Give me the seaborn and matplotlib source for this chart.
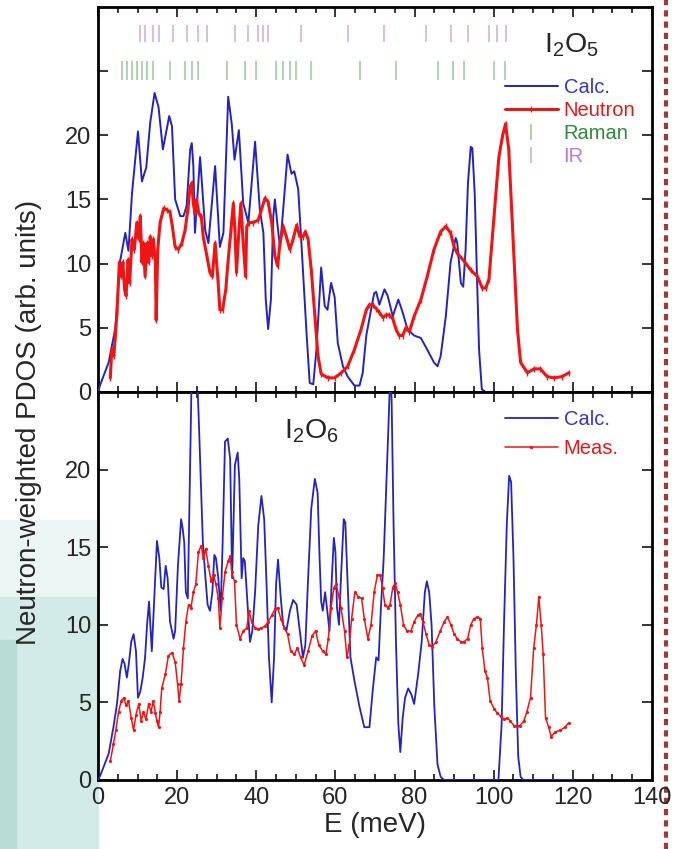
import matplotlib
matplotlib.use("Agg")
import numpy as np
import pandas as pd
import matplotlib.pyplot as plt
import seaborn as sns
from matplotlib.lines import Line2D
from matplotlib.patches import Rectangle
from matplotlib.ticker import MultipleLocator, FixedLocator

# ---------------- data ----------------
# I2O5 calculated PDOS (blue)
i2o5_calc_E = [0, 0.6, 2.7, 4.4, 5.6, 6.9, 7.7, 8.6, 10.1, 11.1, 12.2, 13.2, 14.3, 15.3, 16.4,
               18.0, 18.7, 19.5, 20.8, 21.6, 22.4, 23.3, 23.7, 24.1, 24.5, 25.8, 27.1, 27.9, 29.6,
               30.8, 31.7, 32.9, 33.8, 34.5, 35.6, 36.7, 38.0, 39.7, 40.9, 41.8, 42.4, 43.0,
               43.7, 44.3, 44.7, 45.4, 46.0, 46.8, 47.9, 48.9, 49.6, 50.6, 51.4, 52.7, 53.5,
               54.4, 55.2, 56.4, 57.3, 58.0, 58.9, 59.8, 60.6, 61.9, 63.1, 64.8, 66.1, 66.9,
               67.8, 69.0, 69.8, 70.3, 71.1, 72.4, 73.2, 74.5, 75.9, 77.0, 78.2, 79.9, 81.6,
               83.2, 84.9, 85.8, 86.6, 87.9, 89.1, 90.4, 90.8, 91.7, 92.3, 92.9, 93.5, 94.2,
               94.6, 95.2, 95.7, 96.3, 97.0, 98.0, 120.0]
i2o5_calc_I = [0, 0.6, 2.3, 5.0, 10.2, 12.4, 11.0, 15.5, 20.3, 16.4, 17.5, 21.0, 23.3, 22.2, 18.9,
               21.5, 20.7, 15.0, 13.7, 13.7, 14.5, 18.9, 19.4, 17.6, 12.4, 18.3, 12.6, 11.6, 17.6,
               11.3, 12.4, 23.0, 20.9, 18.1, 20.4, 14.7, 13.2, 19.5, 14.2, 12.4, 7.2, 4.9,
               7.2, 13.7, 15.0, 12.9, 11.3, 14.2, 18.5, 17.0, 17.2, 15.8, 11.6, 4.6, 0.7,
               0.6, 3.3, 9.7, 6.7, 6.4, 8.5, 7.4, 3.8, 2.0, 1.2, 0.5, 0.5, 1.5,
               4.4, 6.4, 7.7, 7.8, 6.8, 8.0, 7.5, 5.9, 7.2, 6.2, 4.9, 4.4, 4.2,
               3.3, 2.3, 2.0, 2.8, 5.9, 10.1, 12.0, 11.6, 8.5, 8.2, 11.1, 16.3, 19.1,
               19.0, 15.5, 9.8, 3.3, 0.2, 0.0, 0.0]

# I2O5 neutron measurement (red)
i2o5_meas_E = [3.1, 3.5, 4.0, 4.4, 4.8, 5.4, 5.9, 6.3, 6.7, 7.1, 7.6, 8.0, 8.6, 9.2, 9.8, 10.3,
               10.7, 11.1, 11.5, 11.9, 12.4, 12.8, 13.2, 13.6, 14.0, 14.5, 14.7, 15.1, 15.7,
               16.6, 17.4, 18.2, 18.8, 19.5, 20.3, 21.2, 22.0, 22.7, 23.3, 23.7, 24.1, 24.5,
               24.9, 25.5, 26.1, 26.6, 27.5, 28.3, 28.9, 29.6, 30.3, 30.8, 31.5, 32.3, 32.9,
               33.6, 34.2, 34.6, 35.0, 35.5, 36.1, 36.7, 37.3, 37.6, 38.2, 39.2, 40.5, 41.3,
               42.2, 43.0, 43.9, 44.7, 45.4, 46.0, 46.8, 47.6, 48.5, 49.3, 50.2, 51.0, 51.8,
               52.4, 53.1, 53.9, 54.8, 55.6, 56.4, 58.1, 59.8, 61.5, 63.1, 64.8, 66.5, 67.8,
               68.6, 69.4, 70.3, 71.1, 72.0, 72.8, 73.6, 74.5, 75.3, 76.1, 77.0, 77.8, 78.7,
               79.9, 81.6, 83.2, 84.9, 86.6, 87.9, 89.1, 90.0, 90.8, 92.5, 94.2, 95.9, 97.1,
               98.0, 98.8, 100.1, 101.3, 102.2, 103.0, 103.8, 104.7, 106.0, 106.8, 108.5,
               110.2, 111.8, 113.5, 115.2, 117.3, 119.0]
i2o5_meas_I = [1.1, 3.3, 2.8, 4.4, 6.2, 10.1, 9.0, 10.1, 8.0, 7.5, 10.3, 8.5, 11.9, 11.1, 13.2, 11.9,
               13.7, 10.1, 11.6, 9.0, 11.6, 10.1, 12.1, 10.6, 11.9, 10.1, 5.6, 11.1, 13.2,
               14.3, 14.2, 14.0, 12.9, 11.3, 11.1, 11.6, 12.6, 14.2, 16.0, 16.3, 14.7, 13.9,
               15.0, 13.9, 13.7, 12.1, 10.6, 9.3, 9.0, 11.6, 8.8, 6.4, 6.4, 8.0, 10.3,
               12.6, 14.7, 12.6, 9.3, 12.0, 14.7, 11.6, 9.0, 12.9, 13.2, 13.2, 13.4, 14.2,
               15.1, 14.8, 13.2, 10.6, 9.8, 11.6, 12.9, 12.1, 11.1, 11.9, 13.0, 12.1, 12.1,
               12.5, 11.9, 9.5, 5.9, 2.8, 1.4, 1.1, 1.1, 1.5, 2.0, 3.3, 4.9, 6.4,
               6.8, 6.8, 6.5, 6.2, 5.8, 6.0, 6.0, 5.7, 4.9, 4.4, 4.4, 5.0, 4.7,
               5.9, 7.2, 9.0, 11.1, 12.5, 12.9, 12.4, 11.3, 10.8, 10.2, 9.5, 9.0, 8.1,
               8.1, 8.8, 13.7, 18.3, 19.9, 20.9, 18.9, 13.2, 4.9, 2.3, 1.5,
               1.8, 1.8, 1.2, 1.1, 1.2, 1.5]

# I2O5 optical modes (tick positions, meV)
raman_E = [6.0, 7.3, 8.6, 9.8, 11.1, 12.3, 14.0, 18.2, 22.0, 23.7, 25.3, 32.5, 37.1, 40.0,
           45.1, 46.7, 48.4, 50.1, 53.9, 66.1, 75.3, 85.8, 89.6, 92.6, 100.1, 102.9]
ir_E = [10.7, 11.9, 14.0, 15.3, 19.0, 22.4, 25.3, 27.5, 34.6, 37.9, 40.5, 41.7, 43.0, 51.4,
        63.1, 72.4, 82.9, 89.2, 93.4, 98.8, 100.9, 103.0]

# I2O6 calculated PDOS (blue)
i2o6_calc_E = [0, 0.6, 2.7, 3.9, 4.8, 5.6, 6.2, 6.7, 7.3, 7.8, 8.4, 9.0, 9.6, 10.1, 10.7, 11.3,
               11.9, 12.4, 12.9, 13.6, 14.3, 14.9, 15.5, 16.0, 16.6, 17.1, 17.6, 18.2, 19.1,
               19.5, 20.2, 21.0, 21.4, 21.8, 22.2, 22.7, 23.3, 23.7, 25.0, 25.5, 26.1, 26.5,
               27.1, 27.7, 28.3, 28.9, 29.4, 29.8, 30.4, 31.0, 31.5, 32.1, 32.8, 33.4, 33.9,
               34.6, 35.3, 35.7, 36.3, 36.7, 37.1, 37.8, 38.4, 39.0, 39.7, 40.5, 41.3, 42.0,
               42.6, 43.2, 43.9, 44.5, 45.0, 45.5, 46.2, 46.8, 47.6, 48.5, 49.3, 50.2, 51.0,
               51.8, 52.4, 53.1, 53.9, 54.8, 55.5, 56.0, 56.4, 56.8, 57.4, 57.9, 58.5, 59.1,
               59.6, 60.0, 60.4, 60.9, 61.4, 62.1, 62.5, 63.1, 63.8, 64.8, 66.1, 67.3, 68.6,
               69.4, 70.3, 70.9, 71.5, 72.2, 72.8, 73.4, 73.9, 74.2, 74.7, 75.3, 75.9, 76.4,
               77.0, 77.6, 78.4, 79.2, 79.9, 80.9, 81.8, 82.6, 83.1, 83.7, 84.3, 85.0, 85.8,
               86.6, 87.5, 101.2, 102.0, 102.6, 103.3, 103.9, 104.4, 105.0, 105.6, 106.2,
               106.8, 107.5, 120.0]
i2o6_calc_I = [0, 0.3, 1.7, 3.4, 4.9, 7.0, 7.8, 7.5, 6.6, 7.5, 8.9, 9.4, 8.3, 5.3, 5.7, 6.6,
               7.9, 10.0, 11.5, 8.3, 12.1, 15.4, 14.3, 12.4, 12.3, 13.8, 13.0, 10.2, 9.1,
               9.6, 13.8, 16.8, 16.2, 15.3, 12.1, 11.7, 20.7, 26.5, 26.5, 23.0, 18.5, 15.3,
               13.2, 11.3, 10.9, 12.1, 14.5, 14.3, 13.0, 10.9, 15.3, 21.8, 22.0, 20.7, 13.0,
               20.3, 21.1, 19.4, 13.0, 14.3, 14.1, 11.3, 8.9, 9.6, 12.1, 16.4, 18.3, 16.8,
               12.6, 7.9, 5.0, 7.9, 12.6, 14.2, 11.7, 10.0, 9.6, 10.9, 11.6, 11.3, 9.6,
               7.9, 8.7, 13.0, 17.5, 19.4, 18.5, 14.3, 11.5, 10.9, 12.1, 11.0, 9.6, 13.0,
               15.6, 14.7, 11.1, 10.0, 13.0, 16.8, 16.6, 12.6, 7.9, 6.4, 4.7, 3.4, 3.4,
               5.7, 7.9, 7.7, 11.1, 14.3, 18.5, 22.8, 26.5, 24.5, 16.4, 8.9, 3.6, 1.8,
               4.0, 5.3, 5.9, 5.5, 4.9, 6.8, 8.9, 12.1, 12.8, 12.1, 10.0, 4.7, 1.0,
               0.2, 0.0, 0.0, 3.6, 10.0, 16.4, 19.6, 19.2, 14.3, 6.8, 1.5,
               0.2, 0.0, 0.0]

# I2O6 measured PDOS (red)
i2o6_meas_E = [3.1, 3.9, 4.5, 5.2, 5.9, 6.5, 7.1, 7.7, 8.4, 9.0, 9.6, 10.3, 10.9, 11.5, 12.1,
               12.8, 13.4, 14.0, 14.5, 14.9, 15.3, 15.7, 16.1, 17.0, 17.8, 18.7, 19.5, 20.1,
               20.5, 21.0, 21.6, 22.2, 22.9, 23.5, 24.1, 24.7, 25.4, 26.1, 26.6, 27.2, 27.9,
               28.6, 29.2, 29.8, 30.4, 30.8, 31.4, 32.1, 32.9, 33.4, 33.8, 34.5, 35.0, 35.9,
               36.7, 37.6, 38.2, 38.8, 39.7, 40.5, 41.3, 42.2, 43.0, 43.9, 44.7, 45.4, 46.2,
               47.1, 47.9, 48.7, 49.6, 50.4, 51.2, 52.1, 53.1, 54.1, 55.0, 55.8, 56.8, 57.6,
               58.2, 58.9, 59.6, 60.2, 60.8, 61.4, 62.3, 62.9, 63.5, 64.1, 64.9, 65.8, 66.6,
               67.3, 68.2, 69.0, 69.8, 70.6, 71.3, 71.9, 72.5, 73.2, 73.8, 74.5, 75.1, 75.7,
               76.4, 77.2, 78.1, 79.1, 79.9, 80.8, 81.4, 82.1, 82.9, 83.7, 84.5, 85.4, 86.5,
               87.5, 88.3, 89.2, 90.0, 90.8, 91.7, 92.5, 93.4, 94.2, 95.0, 95.9, 96.6, 97.1,
               97.8, 98.4, 99.1, 100.1, 100.9, 101.8, 102.6, 103.4, 104.2, 105.1, 105.9,
               106.7, 107.6, 108.4, 109.3, 110.1, 110.8, 111.4, 112.0, 112.5, 113.1, 113.9,
               114.5, 115.6, 116.8, 118.0, 119.0]
i2o6_meas_I = [1.2, 2.3, 3.2, 4.4, 5.1, 5.3, 4.8, 5.1, 4.0, 3.2, 4.2, 4.9, 3.8, 4.4, 3.9,
               4.9, 4.4, 5.1, 4.3, 3.8, 3.4, 4.4, 5.9, 6.8, 8.0, 8.2, 7.6, 6.2,
               5.1, 6.2, 8.5, 10.2, 11.3, 11.1, 12.1, 12.6, 14.7, 15.1, 14.3, 14.9, 13.8,
               12.8, 13.2, 12.6, 11.7, 9.8, 11.7, 13.4, 14.1, 14.4, 13.4, 12.8, 10.0, 9.1,
               9.6, 9.8, 10.9, 10.2, 9.8, 9.7, 9.8, 9.9, 10.2, 10.6, 11.0, 11.1, 10.4,
               9.8, 9.4, 8.3, 8.1, 8.5, 7.9, 7.4, 8.3, 9.3, 9.6, 8.7, 8.3, 8.1,
               9.1, 11.1, 12.4, 12.6, 11.9, 11.1, 9.6, 7.9, 8.7, 10.4, 12.1, 11.8, 11.7,
               10.4, 9.1, 10.0, 12.1, 13.2, 13.2, 12.4, 11.3, 11.1, 11.3, 12.4, 12.7, 12.1,
               11.3, 10.0, 9.6, 9.6, 10.2, 10.6, 10.7, 10.2, 9.4, 8.7, 8.6, 8.9, 9.6,
               10.2, 10.5, 10.0, 9.4, 9.1, 8.9, 8.9, 9.1, 10.0, 10.4, 10.5, 10.4, 8.5,
               7.0, 6.6, 5.1, 4.6, 4.3, 4.1, 3.9, 4.0, 3.8, 3.5, 3.5,
               3.5, 3.8, 4.4, 5.3, 8.5, 10.0, 11.8, 10.0, 8.1, 4.0, 3.4,
               2.8, 3.1, 3.2, 3.4, 3.7]

x_ticks = [0, 20, 40, 60, 80, 100, 120, 140]
y_ticks_top = [0, 5, 10, 15, 20, 25]
y_labels_top = ["0", "5", "10", "15", "20", ""]
y_ticks_bottom = [0, 5, 10, 15, 20]

# ---------------- style ----------------
sns.set_style("ticks")
plt.rcParams["font.family"] = ["Liberation Sans", "DejaVu Sans"]
plt.rcParams["mathtext.default"] = "regular"

BLUE = "#2323c4"
RED = "#f01414"
RAMAN = "#9cc89c"
IR = "#d2aadb"

fig = plt.figure(figsize=(6.8, 8.49), dpi=100)

# slide background pieces (left teal band, right dashed rule)
fig.patches.append(Rectangle((0, 0.2968), 0.144, 0.0907, transform=fig.transFigure,
                             color="#ecf6f4", zorder=-10))
fig.patches.append(Rectangle((0, 0), 0.144, 0.2968, transform=fig.transFigure,
                             color="#d3ebe6", zorder=-10))
fig.patches.append(Rectangle((0, 0), 0.0235, 0.246, transform=fig.transFigure,
                             color="#b9ddd6", zorder=-9))
fig.lines.append(Line2D([0.979, 0.979], [0.0, 1.0], transform=fig.transFigure,
                        color="#a03a3a", lw=3.0, ls=(0, (1.5, 1.2)), zorder=-5))

ax1 = fig.add_axes([0.1441, 0.5383, 0.8147, 0.4535])
ax2 = fig.add_axes([0.1441, 0.0813, 0.8147, 0.4570])

df_c5 = pd.DataFrame({"E": i2o5_calc_E, "I": i2o5_calc_I})
df_m5 = pd.DataFrame({"E": i2o5_meas_E, "I": i2o5_meas_I})
df_c6 = pd.DataFrame({"E": i2o6_calc_E, "I": i2o6_calc_I})
df_m6 = pd.DataFrame({"E": i2o6_meas_E, "I": i2o6_meas_I})

sns.lineplot(data=df_c5, x="E", y="I", ax=ax1, color=BLUE, lw=1.4,
             estimator=None, sort=False, legend=False, zorder=3)
sns.lineplot(data=df_m5, x="E", y="I", ax=ax1, color=RED, lw=2.2,
             marker="|", markersize=4, markeredgewidth=1.0, markeredgecolor=RED,
             estimator=None, sort=False, legend=False, zorder=4)
ax1.vlines(ir_E, 27.3, 28.6, color=IR, lw=1.1)
ax1.vlines(raman_E, 24.3, 25.8, color=RAMAN, lw=1.1)

sns.lineplot(data=df_c6, x="E", y="I", ax=ax2, color=BLUE, lw=1.3,
             estimator=None, sort=False, legend=False, zorder=3)
sns.lineplot(data=df_m6, x="E", y="I", ax=ax2, color=RED, lw=1.1,
             marker="o", markersize=2.3, markeredgewidth=0, markerfacecolor=RED,
             estimator=None, sort=False, legend=False, zorder=4)

for ax in (ax1, ax2):
    ax.set_xlim(0, 140)
    ax.xaxis.set_major_locator(FixedLocator(x_ticks))
    ax.xaxis.set_minor_locator(MultipleLocator(5))
    ax.tick_params(which="both", direction="in", top=True, right=True,
                   labelsize=17, width=1.3, pad=5)
    ax.tick_params(which="major", length=7)
    ax.tick_params(which="minor", length=4)
    for s in ax.spines.values():
        s.set_linewidth(2.0)
        s.set_color("black")
    ax.set_ylabel("")
    ax.set_facecolor("white")

ax1.set_ylim(0, 30)
ax1.set_yticks(y_ticks_top)
ax1.set_yticklabels(y_labels_top)
ax1.tick_params(axis="x", labelbottom=False)
ax1.set_xlabel("")

ax2.set_ylim(0, 25)
ax2.set_yticks(y_ticks_bottom)
ax2.set_xticklabels([str(t) for t in x_ticks])
ax2.set_xlabel("E (meV)", fontsize=20, labelpad=2)

fig.text(0.043, 0.503, "Neutron-weighted PDOS (arb. units)", rotation=90,
         ha="center", va="center", fontsize=20)

ax1.text(112.7, 27.0, "I$_2$O$_5$", fontsize=20.5, ha="left", va="center")
ax2.text(47.0, 22.5, "I$_2$O$_6$", fontsize=20.5, ha="left", va="center")

# legends
h1 = [Line2D([], [], color=BLUE, lw=1.4),
      Line2D([], [], color=RED, lw=2.2, marker="|", markersize=4, markeredgewidth=1.0),
      Line2D([], [], color=RAMAN, ls="None", marker="|", markersize=12, markeredgewidth=1.2),
      Line2D([], [], color=IR, ls="None", marker="|", markersize=12, markeredgewidth=1.2)]
leg1 = ax1.legend(h1, ["Calc.", "Neutron", "Raman", "IR"], loc="upper left",
                  bbox_to_anchor=(0.735, 0.816), frameon=False, fontsize=14.5,
                  handlelength=2.6, handletextpad=0.3, labelspacing=0.2,
                  borderaxespad=0, borderpad=0, numpoints=1)
for t, c in zip(leg1.get_texts(), ["#3535c8", "#e01a1a", "#2f8a3a", "#b57dd4"]):
    t.set_color(c)

h2 = [Line2D([], [], color=BLUE, lw=1.3),
      Line2D([], [], color=RED, lw=1.1, marker="o", markersize=2.5, markeredgewidth=0)]
leg2 = ax2.legend(h2, ["Calc.", "Meas."], loc="upper left",
                  bbox_to_anchor=(0.735, 0.954), frameon=False, fontsize=14.5,
                  handlelength=2.6, handletextpad=0.3, labelspacing=0.5,
                  borderaxespad=0, borderpad=0, numpoints=1)
for t, c in zip(leg2.get_texts(), ["#3535c8", "#e01a1a"]):
    t.set_color(c)

fig.savefig("out.png", dpi=100)
